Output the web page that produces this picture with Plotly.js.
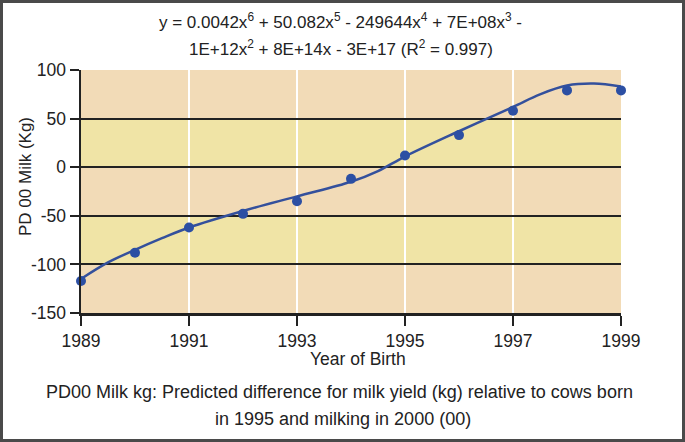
<!DOCTYPE html>
<html>
<head>
<meta charset="utf-8">
<script src="https://cdn.plot.ly/plotly-3.0.1.min.js"></script>
<style>html,body{margin:0;padding:0;background:#fff;}#chart{width:685px;height:442px;}</style>
</head>
<body>
<div id="chart"></div>
<script>
// Data
const years = [1989, 1990, 1991, 1992, 1993, 1994, 1995, 1996, 1997, 1998, 1999];
const pdMilk = [-117, -88, -62, -48, -35, -12, 12, 33, 58, 79, 79];
// Trend line (6th-order polynomial as drawn in the picture)
const trendYears = [1989, 1989.5, 1990, 1990.5, 1991, 1992, 1993, 1994, 1994.5, 1995, 1996, 1997, 1997.5, 1998, 1998.5, 1999];
const trendValues = [-115, -98, -85, -73, -62, -45, -30, -15, -4, 11, 37, 62, 75, 84, 86, 83];
const xTicks = [1989, 1991, 1993, 1995, 1997, 1999];
const yTicks = [-150, -100, -50, 0, 50, 100];
const bands = [[-150, -100, '#f2dbb7'], [-100, -50, '#f0e4a6'], [-50, 0, '#f2dbb7'], [0, 50, '#f0e4a6'], [50, 100, '#f2dbb7']];

const FONT = 'Liberation Sans, Arial, sans-serif';
const TXT = '#222';
const L = 81, R = 64, T = 70, B = 129, W = 685, H = 442;
const pw = W - L - R, ph = H - T - B;
const px = X => (X - L) / pw;
const py = Y => (H - B - Y) / ph;

const shapes = bands.map(b => ({
  type: 'rect', layer: 'below', xref: 'paper', yref: 'y',
  x0: 0, x1: 1, y0: b[0], y1: b[1], fillcolor: b[2], line: {width: 0}
}));
shapes.push({
  type: 'rect', xref: 'paper', yref: 'paper',
  x0: px(1.5), x1: px(683.5), y0: py(440.5), y1: py(1.5),
  line: {color: '#4a4a4a', width: 3}, fillcolor: 'rgba(0,0,0,0)'
});

const ann = (text, X, Y, size, extra) => Object.assign({
  text: text, xref: 'paper', yref: 'paper', x: px(X), y: py(Y),
  xanchor: 'center', yanchor: 'middle', showarrow: false,
  font: {family: FONT, size: size, color: TXT}
}, extra || {});

const annotations = [
  ann('y = 0.0042x<sup>6</sup> + 50.082x<sup>5</sup> - 249644x<sup>4</sup> + 7E+08x<sup>3</sup> -', 340, 21, 17),
  ann('1E+12x<sup>2</sup> + 8E+14x - 3E+17 (R<sup>2</sup> = 0.997)', 341, 48, 17),
  ann('Year of Birth', 358, 359, 17.5),
  ann('PD 00 Milk (Kg)', 25, 177, 17, {textangle: -90}),
  ann('PD00 Milk kg: Predicted difference for milk yield (kg) relative to cows born', 339, 392, 18),
  ann('in 1995 and milking in 2000 (00)', 343, 419, 18)
];

const traces = [
  {x: trendYears, y: trendValues, type: 'scatter', mode: 'lines',
   line: {color: '#34509c', width: 2.5, shape: 'spline', smoothing: 1}, cliponaxis: false, hoverinfo: 'skip'},
  {x: years, y: pdMilk, type: 'scatter', mode: 'markers',
   marker: {color: '#2c4fa3', size: 10}, cliponaxis: false}
];

const layout = {
  width: W, height: H, margin: {l: L, r: R, t: T, b: B, pad: 0},
  paper_bgcolor: '#fff', plot_bgcolor: 'rgba(0,0,0,0)', showlegend: false,
  font: {family: FONT, size: 16, color: TXT},
  xaxis: {range: [1989, 1999], tickvals: xTicks, ticktext: xTicks.map(String),
    showgrid: true, gridcolor: '#ffffff', gridwidth: 2.5, zeroline: false,
    showline: true, linecolor: '#222', linewidth: 2.5,
    ticks: 'outside', ticklen: 10, tickwidth: 2, tickcolor: '#222',
    tickfont: {family: FONT, size: 17.5, color: TXT}, fixedrange: true},
  yaxis: {range: [-150, 100], tickvals: yTicks, ticktext: yTicks.map(String),
    showgrid: true, gridcolor: '#222', gridwidth: 2, zeroline: false,
    showline: true, linecolor: '#222', linewidth: 2.5,
    ticks: 'outside', ticklen: 9, tickwidth: 2, tickcolor: '#222',
    tickfont: {family: FONT, size: 17.5, color: TXT}, fixedrange: true},
  shapes: shapes, annotations: annotations
};

Plotly.newPlot('chart', traces, layout, {displayModeBar: false, staticPlot: true});
</script>
</body>
</html>
